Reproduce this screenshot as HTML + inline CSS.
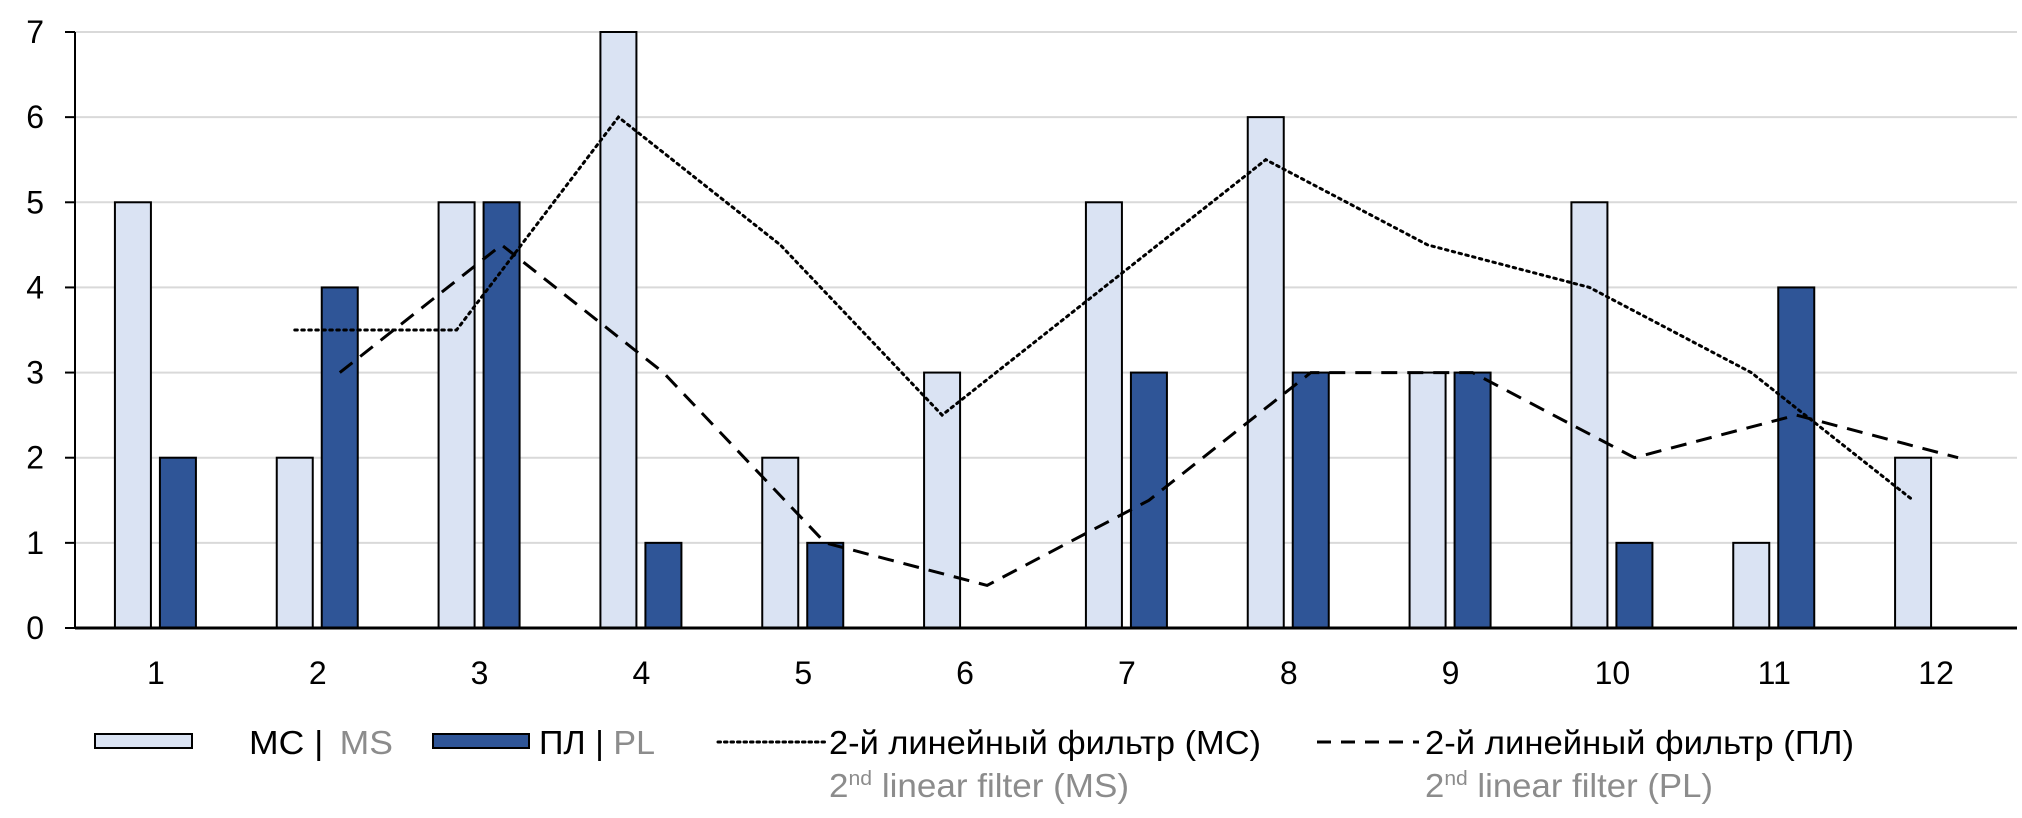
<!DOCTYPE html>
<html><head><meta charset="utf-8"><style>
html,body{margin:0;padding:0;background:#fff;}
svg{display:block;font-family:"Liberation Sans",Arial,sans-serif;}
</style></head><body>
<svg id="chart" width="2022" height="818" viewBox="0 0 2022 818" xmlns="http://www.w3.org/2000/svg">
<g id="grid"></g>
<g id="bars"></g>
<g id="lines"></g>
<g id="axes"></g>
<g id="legend">
  <rect x="95" y="734" width="97" height="14" fill="#dae3f3" stroke="#000" stroke-width="2"/>
  <text x="249" y="754" font-size="33" fill="#000" textLength="144" lengthAdjust="spacingAndGlyphs">МС | <tspan fill="#8c8c8c" dx="6">MS</tspan></text>
  <rect x="433" y="734" width="96" height="14" fill="#2f5597" stroke="#000" stroke-width="2"/>
  <text x="539" y="754" font-size="33" fill="#000" textLength="116" lengthAdjust="spacingAndGlyphs">ПЛ | <tspan fill="#8c8c8c">PL</tspan></text>
  <line x1="718" y1="742" x2="826" y2="742" stroke="#000" stroke-width="3" stroke-dasharray="2.5 4" stroke-linecap="round"/>
  <text x="829" y="754" font-size="33" fill="#000" textLength="432" lengthAdjust="spacingAndGlyphs">2-й линейный фильтр (МС)</text>
  <text x="829" y="797" font-size="33" fill="#8c8c8c" textLength="300" lengthAdjust="spacingAndGlyphs">2<tspan font-size="20" dy="-12">nd</tspan><tspan dy="12"> linear filter (MS)</tspan></text>
  <line x1="1317" y1="742" x2="1419" y2="742" stroke="#000" stroke-width="3" stroke-dasharray="14 10"/>
  <text x="1425" y="754" font-size="33" fill="#000" textLength="429" lengthAdjust="spacingAndGlyphs">2-й линейный фильтр (ПЛ)</text>
  <text x="1425" y="797" font-size="33" fill="#8c8c8c" textLength="288" lengthAdjust="spacingAndGlyphs">2<tspan font-size="20" dy="-12">nd</tspan><tspan dy="12"> linear filter (PL)</tspan></text>
</g>
</svg>
<script>
const categories = ["1","2","3","4","5","6","7","8","9","10","11","12"];
const msValues = [5,2,5,7,2,3,5,6,3,5,1,2];
const plValues = [2,4,5,1,1,0,3,3,3,1,4,0];
const msFilter = [null,3.5,3.5,6,4.5,2.5,4,5.5,4.5,4,3,1.5];
const plFilter = [null,3,4.5,3,1,0.5,1.5,3,3,2,2.5,2];
const yTicks = [0,1,2,3,4,5,6,7];

const NS = "http://www.w3.org/2000/svg";
const left = 75, right = 2017, y0 = 628, yTop = 32, yMax = 7;
const band = (right - left) / categories.length;
function xCenter(i){ return left + band * (i + 0.5); }
function yScale(v){ return y0 - (y0 - yTop) * v / yMax; }
function mk(tag, attrs, parent){
  const e = document.createElementNS(NS, tag);
  for (const k in attrs) e.setAttribute(k, attrs[k]);
  parent.appendChild(e);
  return e;
}
const grid = document.getElementById('grid');
const bars = document.getElementById('bars');
const lines = document.getElementById('lines');
const axes = document.getElementById('axes');

yTicks.forEach(t => {
  const y = yScale(t);
  if (t > 0) {
    const g = mk('line', {x1:left, x2:right, y1:y, y2:y, stroke:'#d9d9d9', 'stroke-width':2}, grid);
    
    
  }
  const tk = mk('line', {x1:left-10, x2:left, y1:y, y2:y, stroke:'#000', 'stroke-width':2}, axes);
  
  
  const lb = mk('text', {x:44, y:y+11, 'font-size':32, 'text-anchor':'end', fill:'#000'}, axes);
  lb.textContent = t;
  
  
});

categories.forEach((c, i) => {
  const cx = xCenter(i);
  const hm = y0 - yScale(msValues[i]);
  if (msValues[i] > 0) {
    const b = mk('rect', {x:cx-41, y:yScale(msValues[i]), width:36, height:hm, fill:'#dae3f3', stroke:'#000', 'stroke-width':2}, bars);
    
    
  }
  const hp = y0 - yScale(plValues[i]);
  if (plValues[i] > 0) {
    const b = mk('rect', {x:cx+4, y:yScale(plValues[i]), width:36, height:hp, fill:'#2f5597', stroke:'#000', 'stroke-width':2}, bars);
    
    
  }
  const lb = mk('text', {x:cx, y:684, 'font-size':32, 'text-anchor':'middle', fill:'#000'}, axes);
  lb.textContent = c;
  
  
});

function path(vals, off){
  let d = '';
  vals.forEach((v, i) => {
    if (v === null) return;
    d += (d ? 'L' : 'M') + (xCenter(i) + off).toFixed(1) + ' ' + yScale(v).toFixed(1) + ' ';
  });
  return d;
}
const lm = mk('path', {d:path(msFilter, -23), fill:'none', stroke:'#000', 'stroke-width':3, 'stroke-dasharray':'2.5 4.5', 'stroke-linecap':'round'}, lines);


const lp = mk('path', {d:path(plFilter, 22), fill:'none', stroke:'#000', 'stroke-width':3, 'stroke-dasharray':'16 10'}, lines);



const ya = mk('line', {x1:left, x2:left, y1:yTop, y2:y0, stroke:'#000', 'stroke-width':2}, axes);


const xa = mk('line', {x1:left, x2:right, y1:y0, y2:y0, stroke:'#000', 'stroke-width':3}, axes);


</script>
</body></html>
